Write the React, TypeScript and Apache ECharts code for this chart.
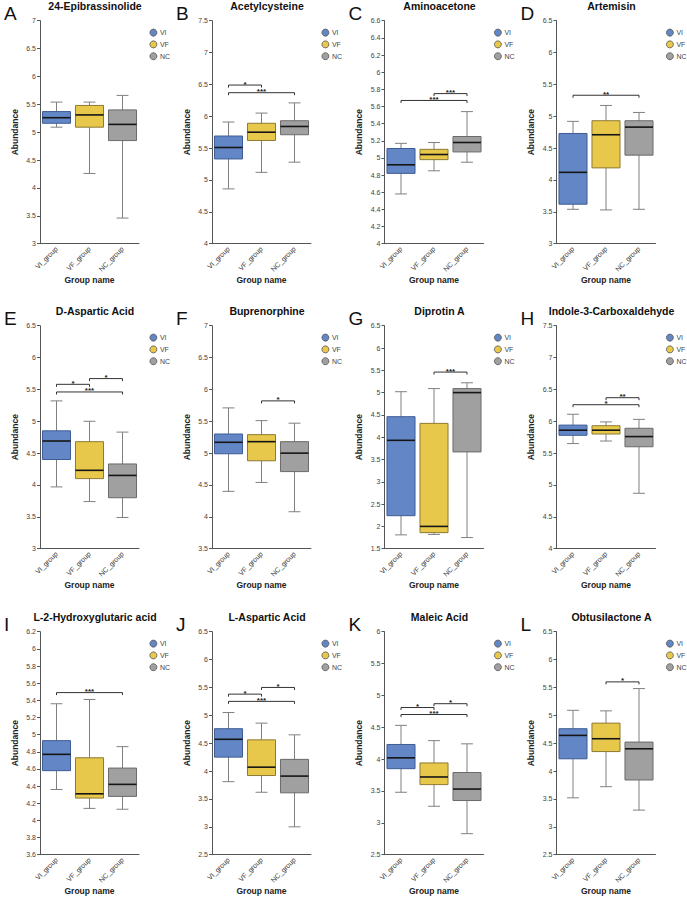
import React, { useEffect, useRef } from 'react';
import * as echarts from 'echarts';

const categories = ['VI_group', 'VF_group', 'NC_group'];
const groups = ['VI', 'VF', 'NC'];
const panelLetters = ['A', 'B', 'C', 'D', 'E', 'F', 'G', 'H', 'I', 'J', 'K', 'L'];
const panelTitles = [
  '24-Epibrassinolide', 'Acetylcysteine', 'Aminoacetone', 'Artemisin',
  'D-Aspartic Acid', 'Buprenorphine', 'Diprotin A', 'Indole-3-Carboxaldehyde',
  'L-2-Hydroxyglutaric acid', 'L-Aspartic Acid', 'Maleic Acid', 'Obtusilactone A',
];
const yMin = [3, 4, 4, 3, 3, 3.5, 1.5, 4, 3.6, 2.5, 2.5, 2.5];
const yMax = [7, 7.5, 6.6, 6.5, 6.5, 7, 6.5, 7.5, 6.2, 6.5, 6, 6.5];
const yStep = [0.5, 0.5, 0.2, 0.5, 0.5, 0.5, 0.5, 0.5, 0.2, 0.5, 0.5, 0.5];

// [min, q1, median, q3, max] for VI, VF, NC
const boxA = [[5.09, 5.16, 5.26, 5.37, 5.54], [4.26, 5.09, 5.31, 5.48, 5.54], [3.46, 4.85, 5.14, 5.40, 5.66]];
const boxB = [[4.86, 5.33, 5.51, 5.69, 5.91], [5.12, 5.62, 5.75, 5.89, 6.05], [5.28, 5.71, 5.84, 5.93, 6.21]];
const boxC = [[4.58, 4.82, 4.92, 5.11, 5.17], [4.85, 4.98, 5.04, 5.10, 5.18], [4.95, 5.07, 5.18, 5.25, 5.54]];
const boxD = [[3.54, 3.62, 4.12, 4.73, 4.92], [3.53, 4.19, 4.71, 4.93, 5.17], [3.54, 4.39, 4.83, 4.93, 5.06]];
const boxE = [[3.97, 4.40, 4.69, 4.85, 5.32], [3.74, 4.10, 4.23, 4.68, 5.00], [3.49, 3.80, 4.15, 4.33, 4.83]];
const boxF = [[4.40, 4.99, 5.17, 5.30, 5.71], [4.54, 4.88, 5.18, 5.29, 5.51], [4.08, 4.71, 5.00, 5.18, 5.47]];
const boxG = [[1.81, 2.24, 3.93, 4.46, 5.02], [1.82, 1.86, 2.00, 4.31, 5.09], [1.75, 3.67, 5.00, 5.09, 5.22]];
const boxH = [[5.65, 5.78, 5.86, 5.94, 6.11], [5.69, 5.80, 5.86, 5.93, 5.99], [4.87, 5.60, 5.76, 5.89, 6.03]];
const boxI = [[4.36, 4.58, 4.77, 4.93, 5.36], [4.14, 4.26, 4.31, 4.73, 5.41], [4.13, 4.28, 4.42, 4.61, 4.86]];
const boxJ = [[3.81, 4.25, 4.57, 4.76, 5.05], [3.62, 3.92, 4.07, 4.56, 4.86], [3.00, 3.61, 3.91, 4.21, 4.65]];
const boxK = [[3.48, 3.85, 4.02, 4.23, 4.53], [3.26, 3.60, 3.72, 3.94, 4.29], [2.83, 3.35, 3.53, 3.79, 4.24]];
const boxL = [[3.52, 4.22, 4.64, 4.76, 5.09], [3.72, 4.35, 4.58, 4.86, 5.08], [3.30, 3.84, 4.40, 4.52, 5.48]];

// significance brackets: [fromGroup, toGroup, y, label]
const sigA: any[] = [];
const sigB = [[0, 1, 6.49, '*'], [0, 2, 6.37, '***']];
const sigC = [[1, 2, 5.75, '***'], [0, 2, 5.67, '***']];
const sigD = [[0, 2, 5.33, '**']];
const sigE = [[1, 2, 5.67, '*'], [0, 1, 5.58, '*'], [0, 2, 5.46, '***']];
const sigF = [[1, 2, 5.82, '*']];
const sigG = [[1, 2, 5.46, '***']];
const sigH = [[1, 2, 6.37, '**'], [0, 2, 6.26, '*']];
const sigI = [[0, 2, 5.49, '***']];
const sigJ = [[1, 2, 5.50, '*'], [0, 1, 5.38, '*'], [0, 2, 5.25, '***']];
const sigK = [[1, 2, 4.87, '*'], [0, 1, 4.81, '*'], [0, 2, 4.70, '***']];
const sigL = [[1, 2, 5.60, '*']];

const boxes = [boxA, boxB, boxC, boxD, boxE, boxF, boxG, boxH, boxI, boxJ, boxK, boxL];
const sigs = [sigA, sigB, sigC, sigD, sigE, sigF, sigG, sigH, sigI, sigJ, sigK, sigL];

const FONT = "'Liberation Sans', Arial, Helvetica, sans-serif";
const fills = ['#6387C6', '#E8C84B', '#A0A0A0'];
const borders = ['#3E5C94', '#8C7A34', '#6A6A6A'];
const colLeft = [40, 212, 384.5, 556.5];
const rowTop = [20.7, 325.7, 631.7];
const GW = 99;
const GH = 223;

const makeBox = (gi: number) => (params: any, api: any) => {
  const x = api.value(0);
  const c = (v: number) => api.coord([x, v]);
  const pMin = c(api.value(1));
  const pQ1 = c(api.value(2));
  const pMed = c(api.value(3));
  const pQ3 = c(api.value(4));
  const pMax = c(api.value(5));
  const band = api.size([1, 0])[0];
  const bw = band * 0.85;
  const cw = band * 0.36;
  const cx = pMed[0];
  const wStyle = { stroke: '#808080', lineWidth: 1 };
  return {
    type: 'group',
    children: [
      { type: 'line', shape: { x1: cx, y1: pMax[1], x2: cx, y2: pMin[1] }, style: wStyle },
      { type: 'line', shape: { x1: cx - cw / 2, y1: pMax[1], x2: cx + cw / 2, y2: pMax[1] }, style: wStyle },
      { type: 'line', shape: { x1: cx - cw / 2, y1: pMin[1], x2: cx + cw / 2, y2: pMin[1] }, style: wStyle },
      {
        type: 'rect',
        shape: { x: cx - bw / 2, y: pQ3[1], width: bw, height: pQ1[1] - pQ3[1] },
        style: { fill: fills[gi], stroke: borders[gi], lineWidth: 1 },
      },
      {
        type: 'line',
        shape: { x1: cx - bw / 2, y1: pMed[1], x2: cx + bw / 2, y2: pMed[1] },
        style: { stroke: '#151515', lineWidth: 1.6 },
      },
    ],
  };
};

const makeSig = (sig: any[]) => (params: any, api: any) => {
  const s = sig[params.dataIndex];
  const p1 = api.coord([s[0], s[2]]);
  const p2 = api.coord([s[1], s[2]]);
  return {
    type: 'group',
    children: [
      {
        type: 'polyline',
        shape: { points: [[p1[0], p1[1] + 2.5], [p1[0], p1[1]], [p2[0], p2[1]], [p2[0], p2[1] + 2.5]] },
        style: { stroke: '#333', lineWidth: 1, fill: 'none' },
      },
      {
        type: 'text',
        x: (p1[0] + p2[0]) / 2,
        y: p1[1] - 1,
        style: {
          text: s[3], align: 'center', verticalAlign: 'middle',
          fontSize: 8, fontWeight: 'bold', fill: '#222', fontFamily: FONT,
        },
      },
    ],
  };
};

function buildOption() {
  const grid: any[] = [];
  const xAxis: any[] = [];
  const yAxis: any[] = [];
  const legend: any[] = [];
  const series: any[] = [];
  const graphic: any[] = [];
  for (let i = 0; i < 12; i++) {
    const left = colLeft[i % 4];
    const top = rowTop[Math.floor(i / 4)];
    grid.push({ left, top, width: GW, height: GH, containLabel: false });
    xAxis.push({
      type: 'category', gridIndex: i, data: categories,
      name: 'Group name', nameLocation: 'middle', nameGap: 32,
      nameTextStyle: { fontSize: 8.5, fontWeight: 'bold', color: '#222', fontFamily: FONT },
      axisLine: { lineStyle: { color: '#555', width: 1 } },
      axisTick: { alignWithLabel: true, length: 3, lineStyle: { color: '#555' } },
      axisLabel: { rotate: 45, fontSize: 7, color: '#333', margin: 4, interval: 0, fontFamily: FONT },
    });
    yAxis.push({
      type: 'value', gridIndex: i, min: yMin[i], max: yMax[i], interval: yStep[i],
      name: 'Abundance', nameLocation: 'middle', nameGap: 21,
      nameTextStyle: { fontSize: 8.5, fontWeight: 'bold', color: '#222', fontFamily: FONT },
      axisLine: { show: true, lineStyle: { color: '#555', width: 1 } },
      axisTick: { show: true, length: 3, lineStyle: { color: '#555' } },
      axisLabel: { fontSize: 7, color: '#444', margin: 4, fontFamily: FONT },
      splitLine: { show: false },
    });
    legend.push({
      left: left + 109.5, top: top + 8, orient: 'vertical', padding: 0,
      itemWidth: 7, itemHeight: 7, itemGap: 4, selectedMode: false,
      textStyle: { fontSize: 7, color: '#444', fontFamily: FONT, padding: [0, 0, 0, -2] },
      data: groups.map((g, gi) => ({
        name: g, icon: 'circle',
        itemStyle: { color: fills[gi], borderColor: '#555', borderWidth: 0.8 },
      })),
    });
    boxes[i].forEach((b, gi) => {
      series.push({
        type: 'custom', name: groups[gi], xAxisIndex: i, yAxisIndex: i,
        renderItem: makeBox(gi),
        itemStyle: { color: fills[gi] },
        encode: { x: 0, y: [1, 2, 3, 4, 5] },
        data: [[gi, ...b]],
      });
    });
    if (sigs[i].length) {
      series.push({
        type: 'custom', name: 'sig' + i, xAxisIndex: i, yAxisIndex: i, silent: true,
        renderItem: makeSig(sigs[i]),
        encode: { x: [0, 1], y: 2 },
        data: sigs[i].map((s: any[]) => [s[0], s[1], s[2]]),
      });
    }
    graphic.push({
      type: 'text', x: left - 36, y: top + 2,
      style: { text: panelLetters[i], fontSize: 19, fill: '#111', fontFamily: FONT, verticalAlign: 'bottom', align: 'left' },
    });
    graphic.push({
      type: 'text', x: left + 55, y: top - 15,
      style: {
        text: panelTitles[i], fontSize: 10.5, fontWeight: 'bold', fill: '#111', fontFamily: FONT,
        align: 'center', verticalAlign: 'middle',
      },
    });
  }
  return {
    animation: false,
    backgroundColor: '#ffffff',
    textStyle: { fontFamily: FONT },
    grid, xAxis, yAxis, legend, series, graphic,
  };
}

export default function App() {
  const ref = useRef<HTMLDivElement>(null);
  useEffect(() => {
    if (!ref.current) return;
    const chart = echarts.init(ref.current, undefined, { renderer: 'svg' });
    chart.setOption(buildOption());
    return () => chart.dispose();
  }, []);
  return (
    <div
      ref={ref}
      style={{ position: 'absolute', left: 0, top: 0, width: 687, height: 897, background: '#fff' }}
    />
  );
}
